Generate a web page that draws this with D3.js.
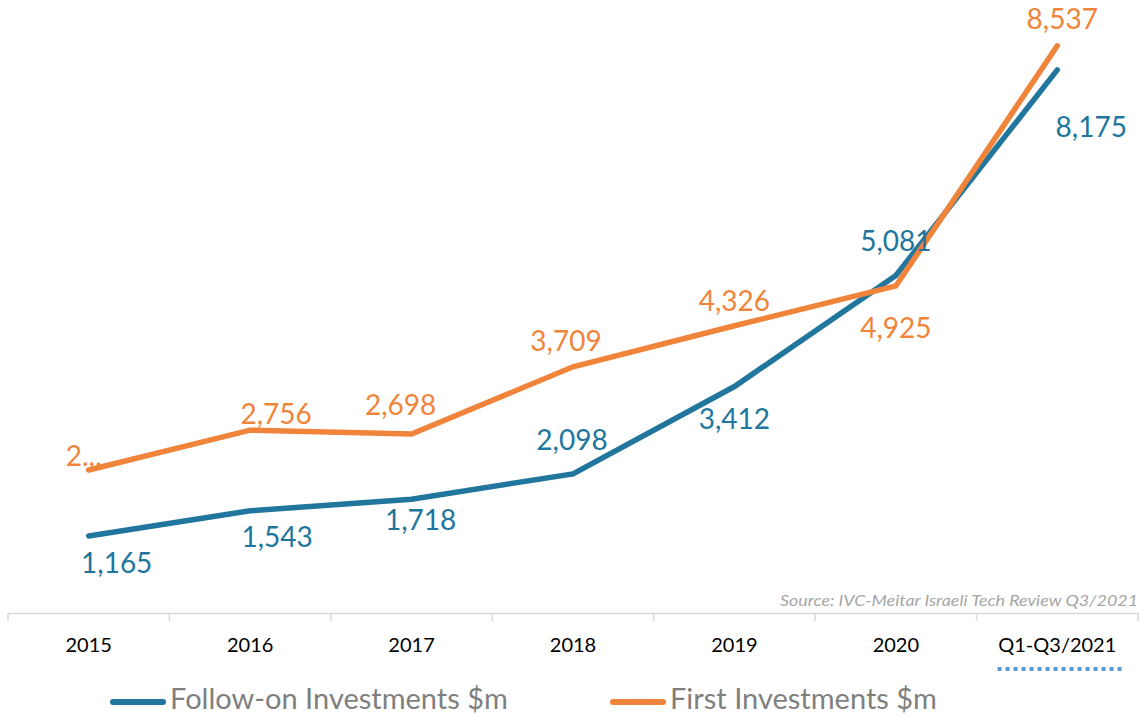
<!DOCTYPE html>
<html>
<head>
<meta charset="utf-8">
<script src="https://cdn.jsdelivr.net/npm/d3@7"></script>
<style>
  body { margin: 0; background: #fff; }
  text { font-family: Lato, "Open Sans", sans-serif; }
</style>
</head>
<body>
<div id="chart"></div>
<script>
// data
const categories = ["2015", "2016", "2017", "2018", "2019", "2020", "Q1-Q3/2021"];
const followOn = [1165, 1543, 1718, 2098, 3412, 5081, 8175];
const firstInv = [2157, 2756, 2698, 3709, 4326, 4925, 8537];
const firstLabels = ["2...", "2,756", "2,698", "3,709", "4,326", "4,925", "8,537"];
const followLabels = ["1,165", "1,543", "1,718", "2,098", "3,412", "5,081", "8,175"];

// label offsets (dx, dy) from the point, like the Excel placement
const followOffsets = [[28, 30], [27, 29], [9, 24], [-1, -31], [0, 35], [0, -32], [34, 60]];
const firstOffsets = [[-5, -11], [26, -13], [-11, -26], [-7, -23], [0, -22], [0, 45], [5, -24]];

const W = 1142, H = 718;
const blue = "#20769c", orange = "#f0843a";

const svg = d3.select("#chart").append("svg")
    .attr("width", W)
    .attr("height", H);

const x = d3.scaleBand()
    .domain(categories)
    .range([8, 1138]);

const y = d3.scaleLinear()
    .domain([0, 9000])
    .range([613.4, 15]);

const cx = d => x(d) + x.bandwidth() / 2;

// axis line + ticks at the band edges
svg.append("line")
    .attr("x1", 8).attr("x2", 1138)
    .attr("y1", 613.5).attr("y2", 613.5)
    .style("stroke", "#d9d9d9")
    .style("stroke-width", 1.5);

const edges = categories.map(c => x(c)).concat([x.range()[1]]);
svg.selectAll(".tick")
    .data(edges)
    .enter()
    .append("line")
    .attr("x1", d => d).attr("x2", d => d)
    .attr("y1", 613).attr("y2", 621)
    .style("stroke", "#d9d9d9")
    .style("stroke-width", 1.5);

svg.selectAll(".xlab")
    .data(categories)
    .enter()
    .append("text")
    .attr("x", d => cx(d))
    .attr("y", 652)
    .attr("text-anchor", "middle")
    .style("font-size", "20px")
    .style("fill", "#000")
    .text(d => d);

// dotted marker under the partial year
svg.append("line")
    .attr("x1", x("Q1-Q3/2021") + 21).attr("x2", x("Q1-Q3/2021") + 148)
    .attr("y1", 669).attr("y2", 669)
    .style("stroke", "#5b9bd5")
    .style("stroke-width", 4)
    .style("stroke-dasharray", "4,4");

svg.append("text")
    .attr("x", 1138)
    .attr("y", 606)
    .attr("text-anchor", "end")
    .attr("textLength", 358)
    .attr("lengthAdjust", "spacingAndGlyphs")
    .style("font-size", "16px")
    .style("font-style", "italic")
    .style("fill", "#a6a6a6")
    .text("Source: IVC-Meitar Israeli Tech Review Q3/2021");

const line = d3.line()
    .x((d, i) => cx(categories[i]))
    .y(d => y(d));

const series = [
    { name: "Follow-on Investments $m", values: followOn, labels: followLabels, offsets: followOffsets, color: blue },
    { name: "First Investments $m", values: firstInv, labels: firstLabels, offsets: firstOffsets, color: orange }
];

series.forEach(s => {
    svg.append("path")
        .datum(s.values)
        .attr("d", line)
        .style("fill", "none")
        .style("stroke", s.color)
        .style("stroke-width", 5.5)
        .style("stroke-linecap", "round")
        .style("stroke-linejoin", "miter");
});

series.forEach(s => {
    svg.selectAll(null)
        .data(s.values)
        .enter()
        .append("text")
        .attr("x", (d, i) => cx(categories[i]) + s.offsets[i][0])
        .attr("y", (d, i) => y(d) + s.offsets[i][1])
        .attr("text-anchor", "middle")
        .attr("dominant-baseline", "middle")
        .style("font-size", "28px")
        .style("fill", s.color)
        .text((d, i) => s.labels[i]);
});

// legend
const legendX = [110, 610];
series.forEach((s, i) => {
    svg.append("line")
        .attr("x1", legendX[i] + 3).attr("x2", legendX[i] + 53)
        .attr("y1", 702).attr("y2", 702)
        .style("stroke", s.color)
        .style("stroke-width", 6)
        .style("stroke-linecap", "round");
    svg.append("text")
        .attr("x", legendX[i] + 60)
        .attr("y", 702)
        .attr("dominant-baseline", "middle")
        .style("font-size", "29px")
        .style("fill", "#7f7f7f")
        .text(s.name);
});
</script>
</body>
</html>
